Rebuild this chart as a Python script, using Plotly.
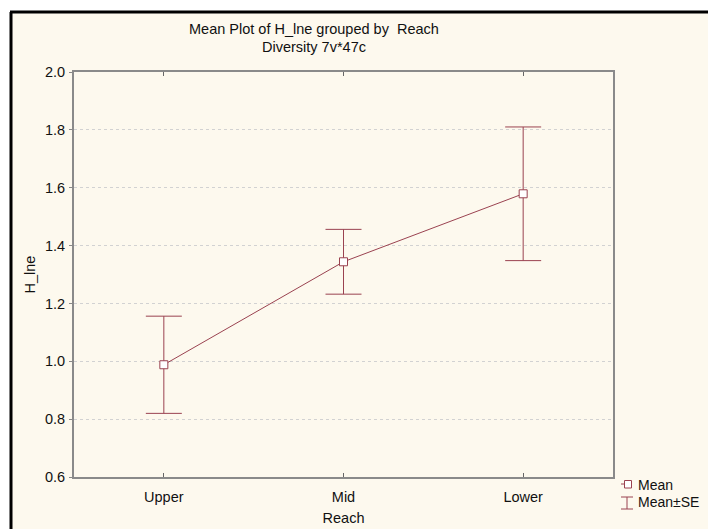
import plotly.graph_objects as go

# Mean of H_lne per reach, with standard errors
reach = ["Upper", "Mid", "Lower"]
mean_h = [0.988, 1.344, 1.579]
se_h = [0.168, 0.112, 0.231]

y_ticks = [0.6, 0.8, 1.0, 1.2, 1.4, 1.6, 1.8, 2.0]

line_col = "#9a4250"
font = "Liberation Sans, Arial, sans-serif"
fs = 14.5

W, H = 708, 529
ml, mr, mt, mb = 74, 95, 72, 52
pw, ph = W - ml - mr, H - mt - mb


def px_x(x):
    return (x - ml) / pw


def px_y(y):
    return 1 - (y - mt) / ph


fig = go.Figure()
fig.add_trace(go.Scatter(
    x=list(range(len(reach))), y=mean_h,
    mode="lines+markers",
    line=dict(color=line_col, width=1),
    marker=dict(symbol="square", size=8, color="white",
                line=dict(color=line_col, width=1)),
    error_y=dict(type="data", array=se_h, visible=True,
                 color=line_col, thickness=1, width=18),
    showlegend=False,
    cliponaxis=False,
))


def seg(x0, y0, x1, y1, color=line_col, width=1):
    return dict(type="line", xref="paper", yref="paper",
                x0=px_x(x0), x1=px_x(x1), y0=px_y(y0), y1=px_y(y1),
                line=dict(color=color, width=width))


shapes = [
    # cream panel with black left and top edges
    dict(type="rect", xref="paper", yref="paper",
         x0=px_x(11), x1=px_x(W + 5), y0=px_y(H + 5), y1=px_y(12),
         fillcolor="#fdf9ee", line=dict(width=0), layer="below"),
    dict(seg(11, 12, 11, H + 5, "black", 3), layer="below"),
    dict(seg(10, 12, W + 5, 12, "black", 3), layer="below"),
    # legend glyphs
    seg(621, 484, 625, 484),
    dict(type="rect", xref="paper", yref="paper",
         x0=px_x(624.5), x1=px_x(631.5), y0=px_y(488), y1=px_y(480.5),
         fillcolor="white", line=dict(color=line_col, width=1)),
    seg(627, 497, 627, 509),
    seg(621, 497, 633, 497),
    seg(621, 509, 633, 509),
]

annotations = [
    dict(text="Mean Plot of H_lne grouped by&nbsp;&nbsp;Reach", xref="paper", yref="paper",
         x=px_x(314), y=px_y(29), xanchor="center", yanchor="middle",
         showarrow=False, font=dict(size=fs, color="#111")),
    dict(text="Diversity 7v*47c", xref="paper", yref="paper",
         x=px_x(314), y=px_y(47), xanchor="center", yanchor="middle",
         showarrow=False, font=dict(size=fs, color="#111")),
    dict(text="Mean", xref="paper", yref="paper", xanchor="left", yanchor="middle",
         x=px_x(636), y=px_y(485), showarrow=False, font=dict(size=14, color="#111")),
    dict(text="Mean±SE", xref="paper", yref="paper", xanchor="left", yanchor="middle",
         x=px_x(636), y=px_y(502), showarrow=False, font=dict(size=14, color="#111")),
]

fig.update_layout(
    width=W, height=H,
    margin=dict(l=ml, r=mr, t=mt, b=mb, pad=0, autoexpand=False),
    paper_bgcolor="white",
    plot_bgcolor="white",
    font=dict(family=font, size=fs, color="#111"),
    shapes=shapes,
    annotations=annotations,
    xaxis=dict(
        range=[-0.5, 2.5],
        tickmode="array", tickvals=list(range(len(reach))), ticktext=reach,
        showgrid=False, zeroline=False,
        showline=True, linecolor="#8a8a8a", linewidth=2, mirror="allticks",
        ticks="inside", ticklen=4, tickcolor="#666",
        tickfont=dict(size=fs),
        ticklabelstandoff=6,
        automargin=False,
        title=dict(text="Reach", font=dict(size=fs), standoff=8),
    ),
    yaxis=dict(
        range=[0.6, 2.0],
        tickmode="array", tickvals=y_ticks,
        ticktext=[f"{v:.1f}" for v in y_ticks],
        showgrid=True, gridcolor="#d2d2d2", griddash="dot", gridwidth=1,
        zeroline=False,
        showline=True, linecolor="#8a8a8a", linewidth=2, mirror=True,
        ticks="outside", ticklen=3, tickcolor="#888",
        tickfont=dict(size=fs),
        ticklabelstandoff=1,
        automargin=False,
        title=dict(text="H_lne", font=dict(size=fs), standoff=6),
    ),
)

fig.write_html("out.html")
